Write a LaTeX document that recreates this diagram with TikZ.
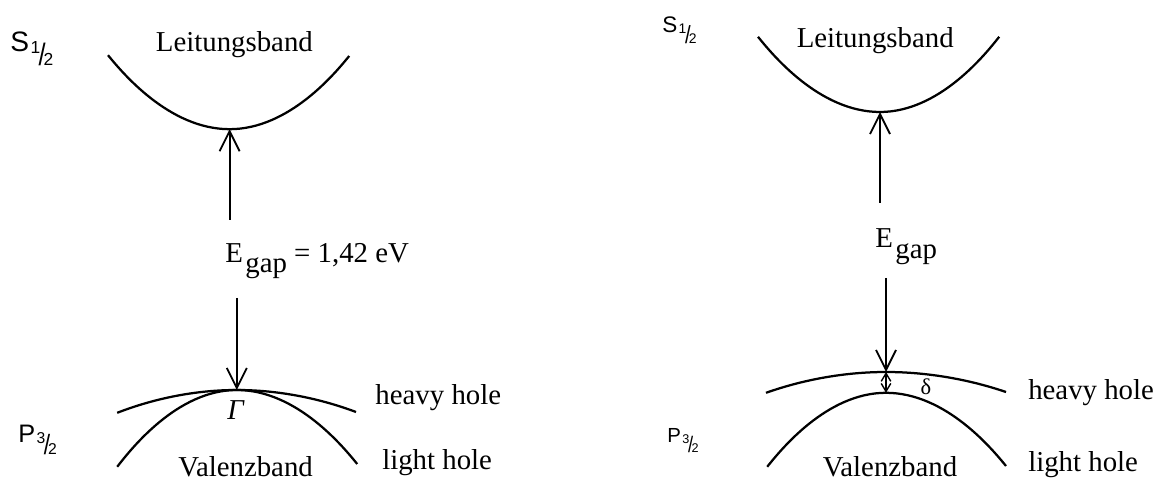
\documentclass[tikz,border=0pt]{standalone}
\usepackage{fontspec}
\setmainfont{Liberation Serif}
\setsansfont{Liberation Sans}
\usepackage{graphicx}
\usetikzlibrary{arrows.meta}
\newcommand{\spinfrac}[2]{\kern0.06em\raisebox{-0.04em}{\scalebox{0.62}{#1}}\kern-0.06em\raisebox{-0.47em}{\scalebox{0.9}[1.1]{/}}\kern-0.08em\raisebox{-0.47em}{\scalebox{0.62}{#2}}}
\newcommand{\Egap}{E\kern0.08em\raisebox{-0.35em}{gap}}

\begin{document}
\begin{tikzpicture}[x=1.0cm,y=1.0cm,
    band/.style={line width=1.6pt},
    gaparrow/.style={line width=1.3pt,-{Straight Barb[length=5mm,width=5mm]}},
    deltaarrow/.style={line width=1pt,{Straight Barb[length=2mm,width=2.4mm]}-{Straight Barb[length=2mm,width=2.4mm]}},
    txt/.style={inner sep=0pt,font=\fontsize{20.5}{24}\selectfont},
  ]
  \useasboundingbox (0,0) rectangle (29,12.1);
  % left: heavy and light hole degenerate at Gamma
  \coordinate (cbL) at (5.74,8.87);
  \coordinate (upL) at (5.74,6.6);
  \coordinate (vbL) at (5.92,2.35);
  \coordinate (dnL) at (5.92,4.65);
  \draw[band] (2.7,10.72) parabola bend (cbL) (8.73,10.7);
  \draw[gaparrow] (upL) -- (cbL);
  \draw[gaparrow] (dnL) -- (vbL);
  \draw[band] (2.93,1.78) parabola bend (vbL) (8.9,1.8);
  \draw[band] (2.93,0.43) parabola bend (vbL) (8.93,0.5);
  \node[anchor=base west,inner sep=0pt,font=\sffamily\fontsize{20}{23}\selectfont] (sL) at (0.25,10.8) {S\spinfrac{1}{2}};
  \node[txt,anchor=base] (cbtxtL) at (5.86,10.8) {Leitungsband};
  \node[txt,anchor=base west] (egapL) at (5.63,5.53) {\Egap{} = 1,42 eV};
  \node[txt,anchor=base] (gammaL) at (5.9,1.6) {\textit{Γ}};
  \node[anchor=base west,inner sep=0pt,font=\sffamily\fontsize{18}{21}\selectfont] (pL) at (0.45,1.03) {P\spinfrac{3}{2}};
  \node[txt,anchor=base] (vbtxtL) at (6.14,0.18) {Valenzband};
  \node[txt,anchor=base west] (hhL) at (9.38,1.98) {heavy hole};
  \node[txt,anchor=base west] (lhL) at (9.55,0.35) {light hole};
  % right: strained, heavy hole lifted by delta
  \coordinate (cbR) at (22.0,9.3);
  \coordinate (upR) at (22.0,7.03);
  \coordinate (hhR) at (22.15,2.8);
  \coordinate (lhR) at (22.15,2.28);
  \coordinate (dnR) at (22.15,5.15);
  \draw[band] (18.95,11.18) parabola bend (cbR) (24.98,11.18);
  \draw[gaparrow] (upR) -- (cbR);
  \draw[gaparrow] (dnR) -- (hhR);
  \draw[deltaarrow] (hhR) -- (lhR);
  \draw[band] (19.15,2.28) parabola bend (hhR) (25.15,2.3);
  \draw[band] (19.18,0.43) parabola bend (lhR) (25.15,0.45);
  \node[anchor=base west,inner sep=0pt,font=\sffamily\fontsize{16}{19}\selectfont] (sR) at (16.55,11.28) {S\spinfrac{1}{2}};
  \node[txt,anchor=base] (cbtxtR) at (21.88,10.9) {Leitungsband};
  \node[txt,anchor=base west] (egapR) at (21.88,5.9) {\Egap};
  \node[inner sep=0pt,font=\fontsize{16}{19}\selectfont] (deltaR) at (23.15,2.43) {δ};
  \node[anchor=base west,inner sep=0pt,font=\sffamily\fontsize{14.5}{17}\selectfont] (pR) at (16.68,1.03) {P\spinfrac{3}{2}};
  \node[txt,anchor=base] (vbtxtR) at (22.25,0.18) {Valenzband};
  \node[txt,anchor=base west] (hhtxtR) at (25.7,2.1) {heavy hole};
  \node[txt,anchor=base west] (lhtxtR) at (25.7,0.3) {light hole};
\end{tikzpicture}
\end{document}
